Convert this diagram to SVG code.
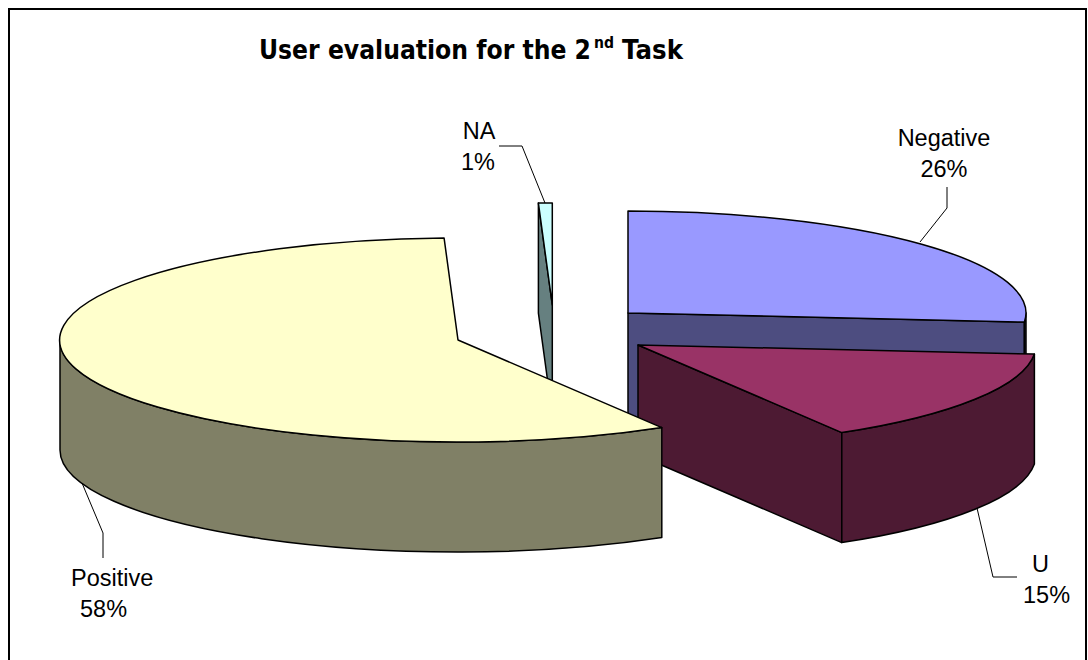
<svg xmlns="http://www.w3.org/2000/svg" width="1088" height="660" viewBox="0 0 1088 660">
<style>
.edge{stroke:#000;stroke-width:1.5;stroke-linejoin:round}
.lbl{font-family:"Liberation Sans",Arial,sans-serif;font-size:23.5px;fill:#000}
.ttl{font-family:"DejaVu Sans","Liberation Sans",sans-serif;font-weight:bold;fill:#000;font-size:26px}
.lead{fill:none;stroke:#000;stroke-width:1}
</style>
<rect x="9" y="9" width="1077" height="700" fill="#fff" stroke="#000" stroke-width="2"/>
<g id="title">
<text class="ttl" x="259" y="59"><tspan textLength="332" lengthAdjust="spacingAndGlyphs">User evaluation for the 2</tspan><tspan x="594" y="48" font-size="16" textLength="20" lengthAdjust="spacingAndGlyphs">nd</tspan><tspan x="622" y="59" textLength="61" lengthAdjust="spacingAndGlyphs">Task</tspan></text>
</g>
<g id="slice-negative">
<path class="edge" fill="#4D4D80" d="M628,313 L1024.4,322.1 L1024.4,432.1 L628,423 Z"/>
<path class="edge" fill="#4D4D80" d="M1024.4,322.1 A398,102 0 0 0 1026,313 L1026,423 A398,102 0 0 1 1024.4,432.1 Z"/>
<path class="edge" fill="#9999FF" d="M628,313 L1024.4,322.1 A398,102 0 0 0 628,211 Z"/>
</g>
<g id="slice-na">
<path class="edge" fill="#668080" d="M552.3,305 L538.4,203.1 L538.4,313.1 L552.3,415 Z"/>
<path class="edge" fill="#CCFFFF" d="M552.3,305 L552.3,203 A398,102 0 0 0 538.4,203.1 Z"/>
</g>
<g id="slice-u">
<path class="edge" fill="#4D1A33" d="M638,345 L841.8,432.6 L841.8,542.6 L638,455 Z"/>
<path class="edge" fill="#4D1A33" d="M841.8,432.6 A398,102 0 0 0 1034.4,354.1 L1034.4,464.1 A398,102 0 0 1 841.8,542.6 Z"/>
<path class="edge" fill="#993366" d="M638,345 L841.8,432.6 A398,102 0 0 0 1034.4,354.1 Z"/>
</g>
<g id="slice-positive">
<path class="edge" fill="#808066" d="M60,340 A398,102 0 0 0 661.8,427.6 L661.8,537.6 A398,102 0 0 1 60,450 Z"/>
<path class="edge" fill="#FFFFCC" d="M458,340 L444.1,238.1 A398,102 0 1 0 661.8,427.6 Z"/>
</g>
<g id="connectors">
<polyline class="lead" points="499,146 522,146 545,203"/>
<polyline class="lead" points="947,187 947,208 920,242"/>
<polyline class="lead" points="977,508 993,577 1017,577"/>
<polyline class="lead" points="82,483 103,533 103,558"/>
</g>
<g id="label-na">
<text class="lbl" x="479" y="139" text-anchor="middle">NA</text>
<text class="lbl" x="478" y="170" text-anchor="middle">1%</text>
</g>
<g id="label-negative">
<text class="lbl" x="944" y="146" text-anchor="middle">Negative</text>
<text class="lbl" x="944" y="177" text-anchor="middle">26%</text>
</g>
<g id="label-u">
<text class="lbl" x="1032" y="572">U</text>
<text class="lbl" x="1023" y="603">15%</text>
</g>
<g id="label-positive">
<text class="lbl" x="71" y="586">Positive</text>
<text class="lbl" x="80" y="617">58%</text>
</g>
</svg>
